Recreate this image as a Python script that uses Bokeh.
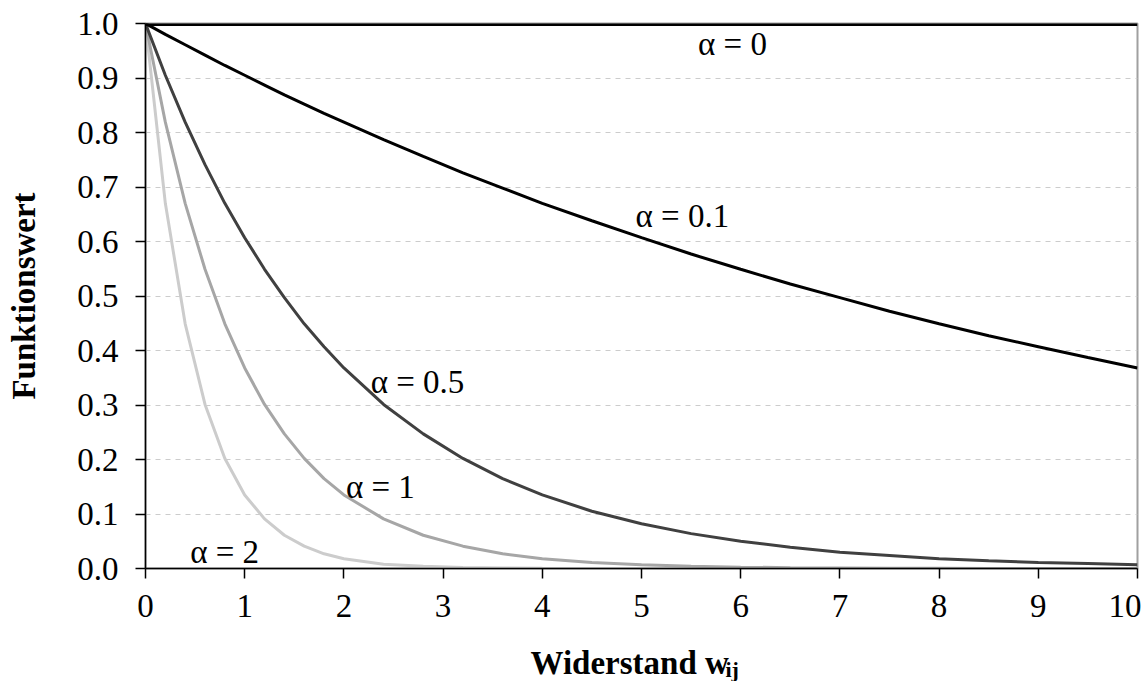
from bokeh.plotting import figure
from bokeh.models import Label, Range1d, FixedTicker
from bokeh.layouts import column
from bokeh.core.properties import value
from bokeh.embed import file_html
from bokeh.resources import INLINE

# Widerstand (x) sample points
w = [0, 0.2, 0.4, 0.6, 0.8, 1.0, 1.2, 1.4, 1.6, 1.8, 2.0, 2.4, 2.8, 3.2, 3.6,
     4.0, 4.5, 5.0, 5.5, 6.0, 6.5, 7.0, 7.5, 8.0, 8.5, 9.0, 9.5, 10.0]

# Funktionswert per alpha
f_a0 = [1.0] * 28
f_a01 = [1.0, 0.980, 0.961, 0.942, 0.923, 0.905, 0.887, 0.869, 0.852, 0.835, 0.819,
         0.787, 0.756, 0.726, 0.698, 0.670, 0.638, 0.607, 0.577, 0.549, 0.522, 0.497,
         0.472, 0.449, 0.427, 0.407, 0.387, 0.368]
f_a05 = [1.0, 0.905, 0.819, 0.741, 0.670, 0.607, 0.549, 0.497, 0.449, 0.407, 0.368,
         0.301, 0.247, 0.202, 0.165, 0.135, 0.105, 0.082, 0.064, 0.050, 0.039, 0.030,
         0.024, 0.018, 0.014, 0.011, 0.009, 0.007]
f_a1 = [1.0, 0.819, 0.670, 0.549, 0.449, 0.368, 0.301, 0.247, 0.202, 0.165, 0.135,
        0.091, 0.061, 0.041, 0.027, 0.018, 0.011, 0.007, 0.004, 0.0025, 0.0015, 0.001,
        0.0006, 0.0003, 0.0002, 0.0001, 0.0001, 0.0]
f_a2 = [1.0, 0.670, 0.449, 0.301, 0.202, 0.135, 0.091, 0.061, 0.041, 0.027, 0.018,
        0.008, 0.004, 0.002, 0.001, 0.0003, 0.0001, 0.0, 0.0, 0.0, 0.0, 0.0,
        0.0, 0.0, 0.0, 0.0, 0.0, 0.0]

x_ticks = [0, 1, 2, 3, 4, 5, 6, 7, 8, 9, 10]
y_ticks = [0.0, 0.1, 0.2, 0.3, 0.4, 0.5, 0.6, 0.7, 0.8, 0.9, 1.0]
y_tick_labels = {v: f"{v:.1f}" for v in y_ticks}

labels = ["α = 0", "α = 0.1", "α = 0.5", "α = 1", "α = 2"]
label_x = [5.57, 4.94, 2.27, 2.02, 0.45]
label_y = [0.962, 0.646, 0.343, 0.150, 0.031]

x_title = "Widerstand w"
x_title_sub = "ij"
y_title = "Funktionswert"

FONT = "Liberation Serif"

p = figure(width=1141, height=640, output_backend="svg", toolbar_location=None,
           x_range=Range1d(0, 10), y_range=Range1d(0, 1.0),
           min_border_left=145, min_border_right=4, min_border_top=23,
           min_border_bottom=72)
p.background_fill_color = "white"
p.border_fill_color = "white"
p.outline_line_color = "#a0a0a0"
p.outline_line_width = 2

p.xgrid.visible = False
p.ygrid.ticker = FixedTicker(ticks=y_ticks)
p.ygrid.grid_line_color = "#cccccc"
p.ygrid.grid_line_dash = "5 5"
p.ygrid.grid_line_width = 1

for ax in (p.xaxis[0], p.yaxis[0]):
    ax.axis_line_color = "black"
    ax.axis_line_width = 1.5
    ax.major_tick_line_color = "black"
    ax.major_tick_line_width = 1.5
    ax.major_tick_in = 0
    ax.major_tick_out = 10
    ax.minor_tick_line_color = None
    ax.major_label_text_font = FONT
    ax.major_label_text_font_size = "33px"
    ax.major_label_text_color = "black"

p.xaxis.ticker = FixedTicker(ticks=x_ticks)
p.xaxis.major_label_standoff = 16
p.yaxis.ticker = FixedTicker(ticks=y_ticks)
p.yaxis.major_label_overrides = y_tick_labels
p.yaxis.major_label_standoff = 17

p.yaxis.axis_label = y_title
p.yaxis.axis_label_text_font = FONT
p.yaxis.axis_label_text_font_style = "bold"
p.yaxis.axis_label_text_font_size = "33px"
p.yaxis.axis_label_text_color = "black"
p.yaxis.axis_label_standoff = 32

series = [
    (f_a2, "#cccccc", 3),
    (f_a1, "#a6a6a6", 3),
    (f_a05, "#404040", 3),
    (f_a01, "#000000", 3),
    (f_a0, "#000000", 5),
]
for ys, col, lw in series:
    p.line(w, ys, line_color=col, line_width=lw)

for t, lx, ly in zip(labels, label_x, label_y):
    p.add_layout(Label(x=lx, y=ly, text=t, text_font=FONT, text_font_size="33px",
                       text_color="black", text_baseline="middle", text_align="left"))

# strip below the chart holding the x axis title with its subscript
q = figure(width=1141, height=41, output_backend="svg", toolbar_location=None,
           x_range=Range1d(145, 1137), y_range=Range1d(0, 41),
           x_axis_type=None, y_axis_type=None,
           min_border_left=145, min_border_right=4, min_border_top=0,
           min_border_bottom=0)
q.outline_line_color = None
q.xgrid.visible = False
q.ygrid.visible = False
q.text(x=[530], y=[19], text=[x_title], text_font=value(FONT),
       text_font_size="33px", text_font_style="bold", text_color="black",
       text_baseline="alphabetic", text_align="left")
q.text(x=[725], y=[12], text=[x_title_sub], text_font=value(FONT),
       text_font_size="22px", text_font_style="bold", text_color="black",
       text_baseline="alphabetic", text_align="left")

layout = column(p, q, spacing=0)
open("out.html", "w").write(file_html(layout, INLINE))
